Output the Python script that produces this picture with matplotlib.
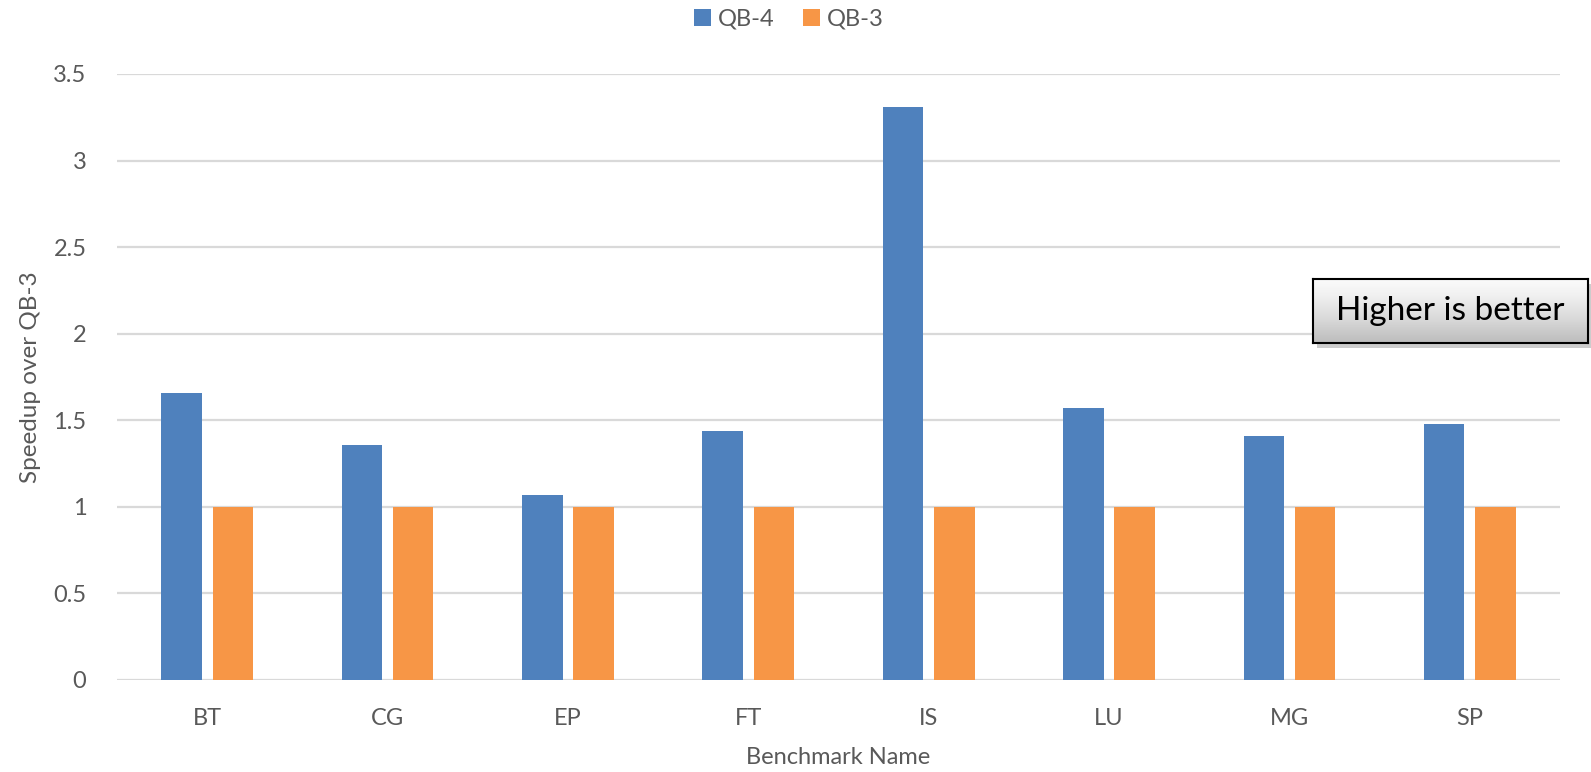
import matplotlib.pyplot as plt
import numpy as np
from matplotlib.patches import Rectangle

plt.rcParams['font.family'] = ['Lato', 'DejaVu Sans']

# Data
benchmarks = ['BT', 'CG', 'EP', 'FT', 'IS', 'LU', 'MG', 'SP']
qb4_speedup = [1.66, 1.36, 1.07, 1.44, 3.31, 1.57, 1.41, 1.48]
qb3_speedup = [1.0, 1.0, 1.0, 1.0, 1.0, 1.0, 1.0, 1.0]
y_ticks = [0, 0.5, 1, 1.5, 2, 2.5, 3, 3.5]

# Colors
qb4_color = '#4F81BD'
qb3_color = '#F79646'
text_color = '#595959'
grid_color = '#D9D9D9'

W, H = 1591, 772
fig = plt.figure(figsize=(W / 100, H / 100), dpi=100)
ax = fig.add_axes([117 / W, 1 - 680 / H, (1560 - 117) / W, (680 - 74) / H])

x = np.arange(len(benchmarks))
bar_w = 0.225
ax.bar(x - 0.142, qb4_speedup, bar_w, color=qb4_color, label='QB-4', zorder=3)
ax.bar(x + 0.142, qb3_speedup, bar_w, color=qb3_color, label='QB-3', zorder=3)

ax.set_xlim(-0.5, len(benchmarks) - 0.5)
ax.set_ylim(0, 3.5)
ax.set_yticks(y_ticks)
ax.set_yticklabels(['0', '0.5', '1', '1.5', '2', '2.5', '3', '3.5'])
ax.set_xticks(x)
ax.set_xticklabels(benchmarks)
ax.tick_params(axis='both', length=0, labelsize=17, colors=text_color)
ax.tick_params(axis='y', pad=22)
ax.tick_params(axis='x', pad=20)
ax.yaxis.grid(True, color=grid_color, linewidth=1.6, zorder=0)
for s in ax.spines.values():
    s.set_visible(False)

ax.set_ylabel('Speedup over QB-3', fontsize=17.5, color=text_color, labelpad=9)
ax.set_xlabel('Benchmark Name', fontsize=17, color=text_color, labelpad=13)

# Legend across the top
leg = fig.legend(loc='center', bbox_to_anchor=(789 / W, 1 - 19 / H), ncol=2,
                 frameon=False, fontsize=17, handlelength=0.7, handleheight=0.7,
                 handletextpad=0.3, columnspacing=1.2)
for t in leg.get_texts():
    t.set_color(text_color)

# "Higher is better" callout with shadow and gray gradient fill
bx0, bx1, by0, by1 = 1313, 1588, 279, 343
shadow = Rectangle(((bx0 + 4) / W, 1 - (by1 + 5) / H), (bx1 - bx0) / W, (by1 - by0) / H,
                   transform=fig.transFigure, facecolor='#9a9a9a', alpha=0.5,
                   edgecolor='none', zorder=4)
fig.patches.append(shadow)
bax = fig.add_axes([bx0 / W, 1 - by1 / H, (bx1 - bx0) / W, (by1 - by0) / H], zorder=5)
grad = np.linspace(0, 1, 100).reshape(-1, 1)
bax.imshow(grad, aspect='auto', cmap='Greys', vmin=-0.1, vmax=2.8,
           extent=[0, 1, 0, 1], origin='upper')
bax.set_xticks([])
bax.set_yticks([])
for s in bax.spines.values():
    s.set_color('black')
    s.set_linewidth(1.5)
bax.text(0.5, 0.5, 'Higher is better', ha='center', va='center',
         fontsize=24, color='black', transform=bax.transAxes)

fig.savefig('out.png', dpi=100)
